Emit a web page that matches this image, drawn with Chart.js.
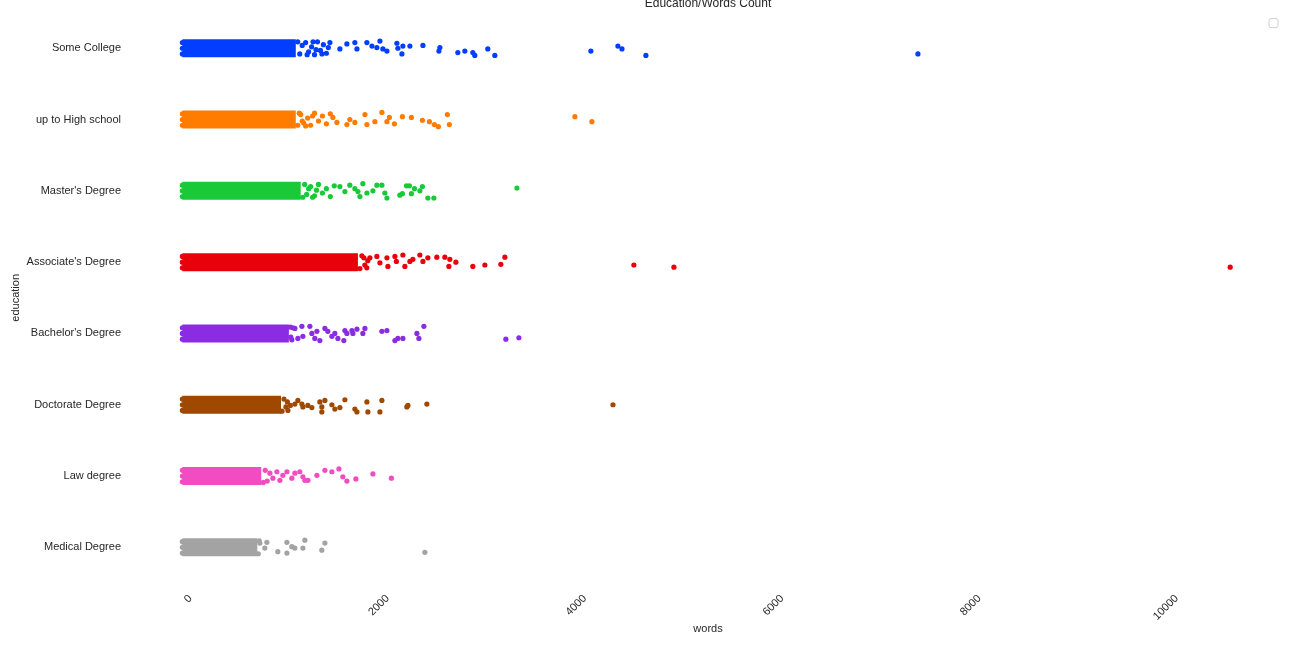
<!DOCTYPE html>
<html>
<head>
<meta charset="utf-8">
<script src="https://cdn.jsdelivr.net/npm/chart.js@4/dist/chart.umd.min.js"></script>
<style>
  html, body { margin: 0; padding: 0; background: #ffffff; }
  #wrap { width: 1296px; height: 648px; position: relative; }
</style>
</head>
<body>
<div id="wrap"><canvas id="c" width="1296" height="648"></canvas></div>
<script>
// ---- data ----
const chartTitle = 'Education/Words Count';
const xTitle = 'words';
const yTitle = 'education';
const categories = ['Some College', 'up to High school', "Master's Degree", "Associate's Degree",
  "Bachelor's Degree", 'Doctorate Degree', 'Law degree', 'Medical Degree'];
const xTicks = [0, 2000, 4000, 6000, 8000, 10000];

// upper end (words) of the dense, fully overlapping part of each strip
const denseEnd = [1150, 1150, 1200, 1780, 1080, 1000, 800, 760];

// individually visible points: words and vertical jitter (category units)
const wordsSomeCollege = [0, 0, 0, 1170, 1190, 1215, 1250, 1265, 1280, 1310, 1325, 1340, 1355, 1370, 1400, 1415, 1430, 1460, 1480, 1496, 1597, 1668, 1749, 1770, 1871, 1922, 1972, 2003, 2033, 2074, 2175, 2185, 2236, 2226, 2307, 2439, 2611, 2601, 2793, 2864, 2945, 2965, 3097, 3168, 4142, 4416, 4457, 4700, 7458];
const jitterSomeCollege = [-0.08, 0, 0.08, -0.09, 0.08, -0.04, -0.08, 0.09, 0.05, -0.02, -0.09, 0.09, 0.02, -0.09, 0.03, 0.08, -0.05, 0.07, -0.01, -0.08, 0.01, -0.06, -0.08, 0.01, -0.08, -0.03, -0.01, -0.1, 0.01, 0.04, -0.07, 0, -0.03, 0.08, -0.03, -0.04, -0.01, 0.04, 0.06, 0.04, 0.06, 0.1, 0.01, 0.1, 0.04, -0.03, 0.01, 0.1, 0.08];

const wordsHighSchool = [0, 0, 0, 1170, 1185, 1200, 1215, 1230, 1250, 1270, 1300, 1320, 1340, 1380, 1420, 1460, 1500, 1526, 1567, 1668, 1698, 1749, 1851, 1871, 1952, 2023, 2074, 2099, 2150, 2231, 2322, 2434, 2505, 2555, 2596, 2687, 2707, 3980, 4152];
const jitterHighSchool = [-0.08, 0, 0.08, 0.08, -0.09, -0.07, 0.02, 0.05, 0.09, -0.02, 0.08, -0.05, -0.09, 0.02, -0.05, 0.06, -0.08, -0.03, 0.04, 0.07, 0, 0.04, -0.07, 0.07, 0.03, -0.1, 0.03, -0.03, 0.06, -0.04, -0.03, 0.01, 0.03, 0.07, 0.1, -0.07, 0.07, -0.04, 0.03];

const wordsMasters = [0, 0, 0, 1220, 1240, 1260, 1280, 1300, 1320, 1340, 1360, 1380, 1420, 1460, 1500, 1540, 1597, 1648, 1698, 1749, 1780, 1800, 1830, 1871, 1932, 1972, 2023, 2053, 2074, 2205, 2231, 2272, 2302, 2322, 2353, 2408, 2434, 2489, 2550, 3392];
const jitterMasters = [-0.08, 0, 0.08, 0.09, -0.09, 0.05, -0.03, -0.06, 0.09, 0.07, -0.01, -0.09, 0.03, -0.03, 0.08, -0.07, -0.06, 0.01, -0.08, -0.03, 0.01, 0.08, -0.1, 0.03, 0, -0.08, -0.08, 0.03, 0.1, 0.06, 0.04, -0.07, -0.07, 0.04, -0.03, 0, -0.06, 0.1, 0.1, -0.04];

const wordsAssociates = [0, 0, 0, 1800, 1820, 1840, 1850, 1870, 1880, 1901, 1972, 2003, 2074, 2084, 2155, 2170, 2236, 2256, 2307, 2337, 2408, 2439, 2489, 2580, 2661, 2712, 2702, 2773, 2945, 3067, 3229, 3270, 4578, 4984, 10624];
const jitterAssociates = [-0.08, 0, 0.08, 0.09, -0.09, -0.06, 0.04, 0.08, -0.02, -0.06, -0.08, 0.01, -0.06, 0.06, -0.08, -0.01, -0.1, 0.06, -0.01, -0.04, -0.1, -0.01, -0.06, -0.07, -0.07, -0.04, 0.06, 0, 0.06, 0.04, 0.03, -0.07, 0.04, 0.07, 0.07];

const wordsBachelors = [0, 0, 0, 1095, 1100, 1110, 1120, 1141, 1171, 1212, 1222, 1293, 1313, 1343, 1364, 1394, 1445, 1475, 1516, 1546, 1577, 1637, 1648, 1668, 1719, 1729, 1770, 1830, 1851, 2023, 2074, 2155, 2185, 2236, 2378, 2398, 2449, 3280, 3412];
const jitterBachelors = [-0.08, 0, 0.08, -0.09, 0.05, 0.09, -0.08, -0.07, 0.07, -0.1, 0.04, -0.1, 0, 0.07, -0.03, 0.1, -0.07, -0.03, 0.04, 0, 0.07, 0.1, -0.04, 0, -0.04, 0, -0.06, 0, -0.07, -0.03, -0.04, 0.1, 0.07, 0.07, 0, 0.07, -0.1, 0.08, 0.06];

const wordsDoctorate = [0, 0, 0, 1010, 1030, 1050, 1070, 1065, 1095, 1141, 1171, 1212, 1222, 1272, 1313, 1394, 1414, 1445, 1414, 1516, 1546, 1597, 1648, 1749, 1770, 1871, 1881, 2023, 2003, 2276, 2287, 2479, 4366];
const jitterDoctorate = [-0.08, 0, 0.08, 0.09, -0.08, 0.03, 0.08, -0.04, 0.01, -0.01, -0.06, -0.01, 0.03, 0.01, 0.04, -0.04, 0.03, -0.06, 0.1, 0, 0.06, 0.04, -0.07, 0.06, 0.1, -0.04, 0.1, -0.06, 0.1, 0.03, 0.01, -0.01, 0];

const wordsLaw = [0, 0, 0, 820, 840, 860, 887, 918, 958, 989, 1019, 1060, 1110, 1141, 1191, 1222, 1242, 1273, 1364, 1445, 1516, 1587, 1627, 1668, 1759, 1932, 2119];
const jitterLaw = [-0.08, 0, 0.08, 0.09, -0.08, 0.07, -0.04, 0.03, -0.06, 0.06, -0.01, -0.06, 0.03, -0.04, -0.06, 0.01, 0.06, 0.06, -0.01, -0.08, -0.06, -0.1, 0.01, 0.07, 0.04, -0.03, 0.03];

const wordsMedical = [0, 0, 0, 770, 780, 786, 836, 857, 968, 1060, 1060, 1110, 1141, 1222, 1242, 1414, 1445, 2459];
const jitterMedical = [-0.08, 0, 0.08, 0.09, -0.09, -0.06, 0.01, -0.07, 0.06, -0.07, 0.08, -0.01, 0.01, 0.01, -0.1, 0.04, -0.06, 0.07];

const stripWords = [wordsSomeCollege, wordsHighSchool, wordsMasters, wordsAssociates, wordsBachelors, wordsDoctorate, wordsLaw, wordsMedical];
const stripJitter = [jitterSomeCollege, jitterHighSchool, jitterMasters, jitterAssociates, jitterBachelors, jitterDoctorate, jitterLaw, jitterMedical];

// ---- styles ----
const colors = ['#023eff', '#ff7c00', '#1ac938', '#e8000b', '#8b2be2', '#9f4800', '#f14cc1', '#a3a3a3'];
const textColor = '#262626';
const FONT = "'Liberation Sans', Arial, sans-serif";

const datasets = [];
categories.forEach((cat, i) => {
  datasets.push({
    label: cat,
    data: stripWords[i].map((w, k) => ({ x: w, y: i + stripJitter[i][k] })),
    backgroundColor: colors[i],
    borderColor: colors[i],
    pointRadius: 2.6,
    pointBorderWidth: 0,
    pointHoverRadius: 2.6,
    showLine: false,
    order: 1
  });
  datasets.push({
    label: cat + ' (dense)',
    data: [{ x: 0, y: i }, { x: denseEnd[i], y: i }],
    borderColor: colors[i],
    backgroundColor: colors[i],
    borderWidth: 18,
    borderCapStyle: 'butt',
    pointRadius: 0,
    showLine: true,
    order: 2
  });
});

const decor = {
  id: 'decor',
  afterDraw(chart) {
    const { ctx, chartArea } = chart;
    ctx.save();
    ctx.fillStyle = textColor;
    ctx.font = '12px ' + FONT;
    ctx.textAlign = 'center';
    ctx.textBaseline = 'alphabetic';
    ctx.fillText(chartTitle, (chartArea.left + chartArea.right) / 2, 7);
    // empty legend frame
    const bx = chartArea.right - 17, by = chartArea.top + 6, bw = 9, bh = 9, r = 2;
    ctx.beginPath();
    ctx.moveTo(bx + r, by);
    ctx.arcTo(bx + bw, by, bx + bw, by + bh, r);
    ctx.arcTo(bx + bw, by + bh, bx, by + bh, r);
    ctx.arcTo(bx, by + bh, bx, by, r);
    ctx.arcTo(bx, by, bx + bw, by, r);
    ctx.closePath();
    ctx.fillStyle = '#ffffff';
    ctx.fill();
    ctx.strokeStyle = '#d0d0d0';
    ctx.lineWidth = 1;
    ctx.stroke();
    ctx.restore();
  }
};

new Chart(document.getElementById('c'), {
  type: 'scatter',
  data: { datasets },
  options: {
    responsive: false,
    animation: false,
    events: [],
    layout: { padding: { left: 0, right: 10, top: 12.6, bottom: 0 } },
    plugins: {
      legend: { display: false },
      tooltip: { enabled: false },
      title: { display: false }
    },
    scales: {
      x: {
        type: 'linear',
        min: -531,
        max: 11190,
        grid: { display: false, drawTicks: false },
        border: { display: false },
        afterBuildTicks: s => { s.ticks = xTicks.map(v => ({ value: v })); },
        afterFit: s => { s.height = 65; s.paddingLeft = 0; s.paddingRight = 0; },
        ticks: {
          minRotation: 45,
          maxRotation: 45,
          autoSkip: false,
          padding: 9,
          labelOffset: 8,
          color: textColor,
          font: { family: FONT, size: 11 },
          callback: v => String(v)
        },
        title: {
          display: true,
          text: xTitle,
          color: textColor,
          font: { family: FONT, size: 11 },
          padding: { top: 0, bottom: 12.4 }
        }
      },
      y: {
        type: 'linear',
        min: -0.5,
        max: 7.5,
        reverse: true,
        grid: { display: false, drawTicks: false },
        border: { display: false },
        afterBuildTicks: s => { s.ticks = categories.map((c, i) => ({ value: i })); },
        afterFit: s => { s.width = 130; s.paddingTop = 0; s.paddingBottom = 0; },
        ticks: {
          autoSkip: false,
          padding: 9,
          color: textColor,
          font: { family: FONT, size: 11 },
          callback: v => categories[v]
        },
        title: {
          display: true,
          text: yTitle,
          color: textColor,
          font: { family: FONT, size: 11 },
          padding: { top: 9.4, bottom: 0 }
        }
      }
    }
  },
  plugins: [decor]
});
</script>
</body>
</html>
